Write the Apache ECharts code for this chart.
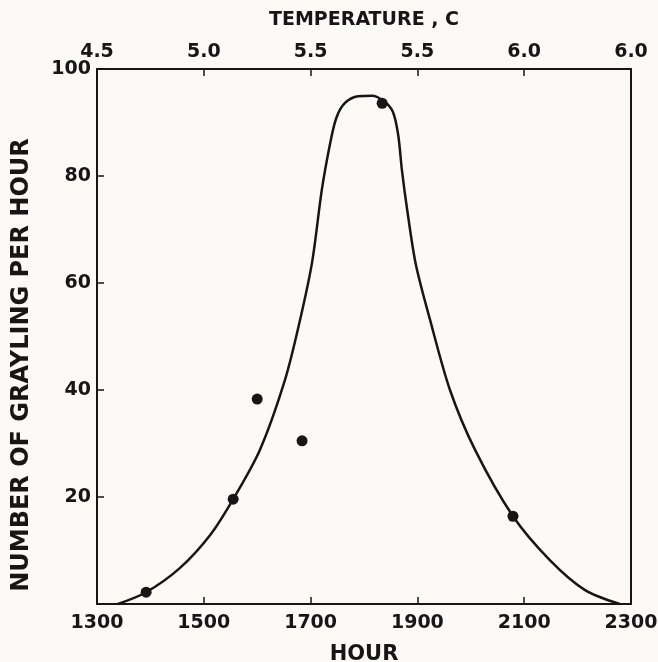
<!DOCTYPE html>
<html>
<head>
<meta charset="utf-8">
<script src="https://cdn.jsdelivr.net/npm/echarts@6/dist/echarts.min.js"></script>
<style>
html,body{margin:0;padding:0;background:#fbfaf6;}
#chart{width:658px;height:662px;}
</style>
</head>
<body>
<div id="chart"></div>
<script>
// Observed data points (hour, number of grayling per hour)
const pointHours = [1392, 1555, 1600, 1684, 1834, 2079];
const pointCounts = [2.2, 19.6, 38.3, 30.5, 93.6, 16.4];

// Fitted curve drawn through the data
const curveHours = [1339, 1392, 1455, 1512, 1555, 1605, 1652, 1680, 1703, 1721, 1736, 1748, 1764, 1789, 1815, 1837, 1854, 1864, 1871, 1881, 1897, 1924, 1961, 2008, 2079, 2148, 2214, 2279];
const curveCounts = [0, 2.2, 6.7, 12.9, 19.6, 28.8, 41.9, 53, 64, 77.4, 85.8, 90.8, 93.6, 94.9, 95.0, 94.0, 92.0, 87.7, 81.1, 73.6, 63.5, 53, 40, 28.8, 16.4, 8.2, 2.6, 0];

// Tick labels
const hourTicks = [1300, 1500, 1700, 1900, 2100, 2300];
const tempLabels = ['4.5', '5.0', '5.5', '5.5', '6.0', '6.0'];
const countTicks = [0, 20, 40, 60, 80, 100];

const FONT = 'DejaVu Sans';
const INK = '#161616';

const chart = echarts.init(document.getElementById('chart'));
const labelStyle = {color: INK, fontFamily: FONT, fontWeight: 'bold', fontSize: 19};

chart.setOption({
  backgroundColor: '#fbfaf6',
  animation: false,
  grid: {left: 97, right: 27, top: 69, bottom: 58, containLabel: false, outerBoundsMode: 'none',
         show: true, borderColor: INK, borderWidth: 2, backgroundColor: 'transparent'},
  graphic: [{
    type: 'text', x: 22, y: 365, rotation: Math.PI / 2,
    style: {text: 'NUMBER OF GRAYLING PER HOUR', fill: INK, font: 'bold 24px "DejaVu Sans"', align: 'center', verticalAlign: 'middle'}
  }],
  xAxis: [
    {
      type: 'value', min: hourTicks[0], max: hourTicks[hourTicks.length - 1], interval: 200,
      position: 'bottom',
      name: 'HOUR', nameLocation: 'middle', nameGap: 40,
      nameTextStyle: Object.assign({}, labelStyle, {fontSize: 21}),
      axisLine: {show: true, lineStyle: {color: INK, width: 2}},
      axisTick: {show: true, inside: true, length: 7, lineStyle: {color: INK, width: 1.5}},
      axisLabel: Object.assign({}, labelStyle, {margin: 10, formatter: function (v) { return String(v); }}),
      splitLine: {show: false}
    },
    {
      type: 'value', min: hourTicks[0], max: hourTicks[hourTicks.length - 1], interval: 200,
      position: 'top',
      name: 'TEMPERATURE , C', nameLocation: 'middle', nameGap: 39,
      nameTextStyle: Object.assign({}, labelStyle, {fontSize: 19}),
      axisLine: {show: true, lineStyle: {color: INK, width: 2}},
      axisTick: {show: true, inside: true, length: 7, lineStyle: {color: INK, width: 1.5}},
      axisLabel: Object.assign({}, labelStyle, {margin: 7, formatter: function (v) {
        const i = hourTicks.indexOf(v);
        return i >= 0 ? tempLabels[i] : '';
      }}),
      splitLine: {show: false}
    }
  ],
  yAxis: {
    type: 'value', min: countTicks[0], max: countTicks[countTicks.length - 1], interval: 20,
    axisLine: {show: true, lineStyle: {color: INK, width: 2}},
    axisTick: {show: true, inside: true, length: 7, lineStyle: {color: INK, width: 1.5}},
    axisLabel: Object.assign({}, labelStyle, {margin: 6, formatter: function (v) { return v === 0 ? '' : String(v); }}),
    splitLine: {show: false}
  },
  series: [
    {
      type: 'line', xAxisIndex: 0,
      data: curveHours.map((h, i) => [h, curveCounts[i]]),
      smooth: 0.3, showSymbol: false,
      lineStyle: {color: INK, width: 2.5}
    },
    {
      type: 'scatter', xAxisIndex: 0,
      data: pointHours.map((h, i) => [h, pointCounts[i]]),
      symbolSize: 11,
      itemStyle: {color: INK, opacity: 1}
    }
  ]
});
</script>
</body>
</html>
